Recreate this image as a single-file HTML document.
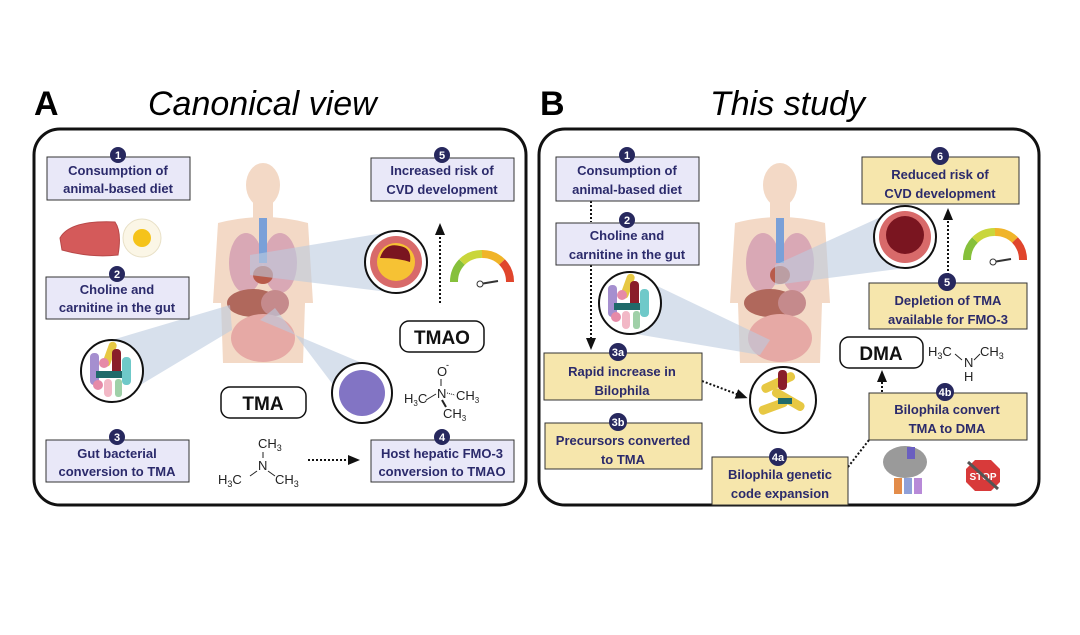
<!DOCTYPE html>
<html><head><meta charset="utf-8"><style>
html,body{margin:0;padding:0;background:#fff}
svg{display:block}
.bt{font-family:"Liberation Sans",sans-serif;font-weight:bold;font-size:13px;fill:#2b2a6b}
.bd{font-family:"Liberation Sans",sans-serif;font-weight:bold;font-size:11px;fill:#fff}
.ch{font-family:"Liberation Sans",sans-serif;font-size:13px;fill:#222}
.pl{font-family:"Liberation Sans",sans-serif;font-weight:bold;font-size:19px;fill:#111}
</style></head><body>
<svg width="1080" height="635" viewBox="0 0 1080 635" xmlns="http://www.w3.org/2000/svg">
<defs>
<marker id="ah" markerUnits="userSpaceOnUse" markerWidth="12" markerHeight="12" refX="6" refY="6" orient="auto"><path d="M0,1 L12,6 L0,11 z" fill="#111"/></marker>
<g id="body">
<ellipse cx="50" cy="22" rx="17" ry="22" fill="#f3d9c6"/>
<rect x="40" y="38" width="20" height="20" fill="#f3d9c6"/>
<path d="M5,60 Q50,48 95,60 L100,140 L92,140 L90,200 L10,200 L8,140 L0,140 Z" fill="#f3d9c6"/>
<ellipse cx="33" cy="100" rx="17" ry="30" fill="#d9a8b5"/>
<ellipse cx="67" cy="100" rx="17" ry="30" fill="#d9a8b5"/>
<rect x="46" y="55" width="8" height="45" fill="#7aa0d8"/>
<ellipse cx="50" cy="112" rx="10" ry="9" fill="#b85b4a"/>
<ellipse cx="40" cy="140" rx="26" ry="14" fill="#b0685c"/>
<ellipse cx="62" cy="140" rx="14" ry="13" fill="#c58a8c"/>
<ellipse cx="50" cy="175" rx="32" ry="24" fill="#e6a9a5"/>
</g>
<g id="bact">
<circle r="31" fill="#fff" stroke="#111" stroke-width="2"/>
<rect x="-22" y="-18" width="9" height="32" rx="4" fill="#a58fcf"/>
<rect x="-12" y="-28" width="8" height="26" rx="4" fill="#e7c843" transform="rotate(20)"/>
<rect x="0" y="-22" width="9" height="28" rx="4" fill="#8a1d2a"/>
<rect x="10" y="-14" width="9" height="28" rx="4" fill="#6fc9c9"/>
<rect x="-16" y="0" width="26" height="7" fill="#1f6a6a"/>
<circle cx="-8" cy="-8" r="5" fill="#e68aa8"/>
<circle cx="-14" cy="14" r="5" fill="#e68aa8"/>
<rect x="-8" y="8" width="8" height="18" rx="4" fill="#f2b8c6"/>
<rect x="3" y="8" width="7" height="18" rx="3" fill="#9fd0a8"/>
</g>
<g id="gauge">
<path d="M-28,0 A28,28 0 0 1 -20,-20" stroke="#86c03b" stroke-width="8" fill="none"/>
<path d="M-20,-20 A28,28 0 0 1 0,-28" stroke="#c9d63b" stroke-width="8" fill="none"/>
<path d="M0,-28 A28,28 0 0 1 20,-20" stroke="#f0b429" stroke-width="8" fill="none"/>
<path d="M20,-20 A28,28 0 0 1 28,0" stroke="#e0452c" stroke-width="8" fill="none"/>
<line x1="-2" y1="2" x2="16" y2="-1" stroke="#333" stroke-width="2"/>
<circle cx="-2" cy="2" r="3" fill="#fff" stroke="#333"/>
</g>
</defs>

<text x="34" y="115" font-family="Liberation Sans" font-weight="bold" font-size="34">A</text>
<text x="148" y="115" font-family="Liberation Sans" font-style="italic" font-size="34">Canonical view</text>
<text x="540" y="115" font-family="Liberation Sans" font-weight="bold" font-size="34">B</text>
<text x="710" y="115" font-family="Liberation Sans" font-style="italic" font-size="34">This study</text>

<rect x="34" y="129" width="492" height="376" rx="26" fill="#fff" stroke="#111" stroke-width="3"/>
<rect x="539" y="129" width="500" height="376" rx="26" fill="#fff" stroke="#111" stroke-width="3"/>

<!-- Panel A -->
<use href="#body" x="213" y="163"/>
<polygon points="396,231 250,255 250,275 396,293" fill="#bccbe0" opacity="0.6"/>
<polygon points="112,340 230,305 232,330 112,402" fill="#bccbe0" opacity="0.6"/>
<polygon points="362,363 260,320 275,308 362,423" fill="#bccbe0" opacity="0.6"/>
<use href="#bact" x="112" y="371"/>
<circle cx="396" cy="262" r="31" fill="#fff" stroke="#111" stroke-width="2"/>
<circle cx="396" cy="262" r="26" fill="#d86a6a"/>
<circle cx="396" cy="262" r="19" fill="#f6c234"/>
<path d="M380,258 Q385,242 400,246 Q412,248 410,262 Q398,258 380,258" fill="#7a1520"/>
<circle cx="362" cy="393" r="30" fill="#fff" stroke="#111" stroke-width="2"/>
<circle cx="362" cy="393" r="23" fill="#8274c4"/>
<use href="#gauge" x="482" y="282"/>
<path d="M60,238 Q70,220 115,222 Q122,232 118,255 Q90,258 62,250 Z" fill="#d45a5a" stroke="#b84848"/>
<ellipse cx="142" cy="238" rx="19" ry="19" fill="#fbf6e6" stroke="#e8e0c6"/>
<circle cx="142" cy="238" r="9" fill="#f5c31a"/>

<line x1="440" y1="303" x2="440" y2="229" stroke="#111" stroke-width="2" stroke-dasharray="2,2" marker-end="url(#ah)"/>
<line x1="308" y1="460" x2="354" y2="460" stroke="#111" stroke-width="2" stroke-dasharray="2,2" marker-end="url(#ah)"/>

<rect x="400" y="321" width="84" height="31" rx="9" fill="#fff" stroke="#111" stroke-width="1.5"/>
<text x="442" y="344" text-anchor="middle" class="pl">TMAO</text>
<rect x="221" y="387" width="85" height="31" rx="9" fill="#fff" stroke="#111" stroke-width="1.5"/>
<text x="263" y="410" text-anchor="middle" class="pl">TMA</text>

<text x="258" y="448" class="ch">CH<tspan font-size="9" dy="3">3</tspan></text>
<line x1="263" y1="452" x2="263" y2="458" stroke="#222"/>
<text x="258" y="470" class="ch">N</text>
<line x1="250" y1="476" x2="257" y2="471" stroke="#222"/><line x1="268" y1="471" x2="275" y2="476" stroke="#222"/>
<text x="218" y="484" class="ch">H<tspan font-size="9" dy="3">3</tspan><tspan dy="-3">C</tspan></text>
<text x="275" y="484" class="ch">CH<tspan font-size="9" dy="3">3</tspan></text>
<text x="437" y="376" class="ch">O</text><text x="446" y="368" font-size="9" font-family="Liberation Sans">-</text>
<line x1="441" y1="379" x2="441" y2="386" stroke="#222"/>
<text x="437" y="398" class="ch">N</text>
<line x1="426" y1="400" x2="436" y2="394" stroke="#222"/><line x1="447" y1="393" x2="455" y2="395" stroke="#222" stroke-dasharray="1,1"/>
<line x1="442" y1="400" x2="446" y2="407" stroke="#222" stroke-width="2"/>
<text x="404" y="403" class="ch" font-size="12">H<tspan font-size="8" dy="3">3</tspan><tspan dy="-3">C</tspan></text>
<text x="456" y="400" class="ch" font-size="12">CH<tspan font-size="8" dy="3">3</tspan></text>
<text x="443" y="418" class="ch" font-size="12">CH<tspan font-size="8" dy="3">3</tspan></text>

<rect x="47" y="157" width="143" height="43" fill="#e9e8f8" stroke="#333"/>
<text x="118" y="175" text-anchor="middle" class="bt">Consumption of</text><text x="118" y="193" text-anchor="middle" class="bt">animal-based diet</text>
<circle cx="118" cy="155" r="8" fill="#27285e"/><text x="118" y="159" text-anchor="middle" class="bd">1</text>

<rect x="46" y="277" width="143" height="42" fill="#e9e8f8" stroke="#333"/>
<text x="117" y="294" text-anchor="middle" class="bt">Choline and</text><text x="117" y="312" text-anchor="middle" class="bt">carnitine in the gut</text>
<circle cx="117" cy="274" r="8" fill="#27285e"/><text x="117" y="278" text-anchor="middle" class="bd">2</text>

<rect x="46" y="440" width="143" height="42" fill="#e9e8f8" stroke="#333"/>
<text x="117" y="458" text-anchor="middle" class="bt">Gut bacterial</text><text x="117" y="476" text-anchor="middle" class="bt">conversion to TMA</text>
<circle cx="117" cy="437" r="8" fill="#27285e"/><text x="117" y="441" text-anchor="middle" class="bd">3</text>

<rect x="371" y="158" width="143" height="43" fill="#e9e8f8" stroke="#333"/>
<text x="442" y="175" text-anchor="middle" class="bt">Increased risk of</text><text x="442" y="194" text-anchor="middle" class="bt">CVD development</text>
<circle cx="442" cy="155" r="8" fill="#27285e"/><text x="442" y="159" text-anchor="middle" class="bd">5</text>

<rect x="371" y="440" width="143" height="42" fill="#e9e8f8" stroke="#333"/>
<text x="442" y="458" text-anchor="middle" class="bt">Host hepatic FMO-3</text><text x="442" y="476" text-anchor="middle" class="bt">conversion to TMAO</text>
<circle cx="442" cy="437" r="8" fill="#27285e"/><text x="442" y="441" text-anchor="middle" class="bd">4</text>

<!-- Panel B -->
<use href="#body" x="730" y="163"/>
<polygon points="905,206 775,265 775,285 905,268" fill="#bccbe0" opacity="0.6"/>
<polygon points="630,273 770,340 760,355 630,333" fill="#bccbe0" opacity="0.6"/>
<use href="#bact" x="630" y="303"/>
<circle cx="783" cy="400" r="33" fill="#fff" stroke="#111" stroke-width="2"/>
<rect x="760" y="378" width="36" height="9" rx="4" fill="#e7c843" transform="rotate(-25 778 382)"/>
<rect x="770" y="395" width="36" height="9" rx="4" fill="#e7c843" transform="rotate(30 788 400)"/>
<rect x="758" y="402" width="30" height="9" rx="4" fill="#e7c843" transform="rotate(-20 773 406)"/>
<rect x="778" y="370" width="9" height="20" rx="4" fill="#8a1d2a"/>
<rect x="778" y="398" width="14" height="6" fill="#1f6a6a"/>
<circle cx="905" cy="237" r="31" fill="#fff" stroke="#111" stroke-width="2"/>
<circle cx="905" cy="237" r="26" fill="#d86a6a"/>
<circle cx="905" cy="235" r="19" fill="#7a1520"/>
<use href="#gauge" x="995" y="260"/>
<ellipse cx="905" cy="462" rx="22" ry="16" fill="#9a9a9a"/>
<rect x="907" y="447" width="8" height="12" fill="#6a5fc0"/>
<rect x="894" y="478" width="8" height="16" fill="#e38c4a"/><rect x="904" y="478" width="8" height="16" fill="#8fa0d8"/><rect x="914" y="478" width="8" height="16" fill="#b88ad8"/>
<polygon points="975,460 991,460 1000,469 1000,482 991,491 975,491 966,482 966,469" fill="#d83a3a"/>
<text x="983" y="480" text-anchor="middle" font-family="Liberation Sans" font-weight="bold" font-size="10" fill="#fff">STOP</text>
<line x1="968" y1="462" x2="998" y2="489" stroke="#555" stroke-width="3"/>

<line x1="591" y1="201" x2="591" y2="222" stroke="#111" stroke-width="2" stroke-dasharray="2,2"/>
<line x1="591" y1="265" x2="591" y2="344" stroke="#111" stroke-width="2" stroke-dasharray="2,2" marker-end="url(#ah)"/>
<line x1="702" y1="381" x2="742" y2="396" stroke="#111" stroke-width="2" stroke-dasharray="2,2" marker-end="url(#ah)"/>
<line x1="848" y1="467" x2="869" y2="440" stroke="#111" stroke-width="2" stroke-dasharray="2,2"/>
<line x1="882" y1="392" x2="882" y2="376" stroke="#111" stroke-width="2" stroke-dasharray="2,2" marker-end="url(#ah)"/>
<line x1="948" y1="283" x2="948" y2="214" stroke="#111" stroke-width="2" stroke-dasharray="2,2" marker-end="url(#ah)"/>

<rect x="840" y="337" width="83" height="31" rx="9" fill="#fff" stroke="#111" stroke-width="1.5"/>
<text x="881" y="360" text-anchor="middle" class="pl">DMA</text>
<text x="928" y="356" class="ch">H<tspan font-size="9" dy="3">3</tspan><tspan dy="-3">C</tspan></text>
<line x1="955" y1="354" x2="962" y2="360" stroke="#222"/><line x1="974" y1="360" x2="980" y2="354" stroke="#222"/>
<text x="964" y="367" class="ch">N</text>
<text x="980" y="356" class="ch">CH<tspan font-size="9" dy="3">3</tspan></text>
<text x="964" y="381" class="ch">H</text>

<rect x="556" y="157" width="143" height="44" fill="#e9e8f8" stroke="#333"/>
<text x="627" y="175" text-anchor="middle" class="bt">Consumption of</text><text x="627" y="194" text-anchor="middle" class="bt">animal-based diet</text>
<circle cx="627" cy="155" r="8" fill="#27285e"/><text x="627" y="159" text-anchor="middle" class="bd">1</text>

<rect x="556" y="223" width="143" height="42" fill="#e9e8f8" stroke="#333"/>
<text x="627" y="240" text-anchor="middle" class="bt">Choline and</text><text x="627" y="259" text-anchor="middle" class="bt">carnitine in the gut</text>
<circle cx="627" cy="220" r="8" fill="#27285e"/><text x="627" y="224" text-anchor="middle" class="bd">2</text>

<g fill="#f6e6ac" stroke="#333">
<rect x="544" y="353" width="158" height="47"/>
<rect x="545" y="423" width="157" height="46"/>
<rect x="712" y="457" width="136" height="48"/>
<rect x="869" y="393" width="158" height="47"/>
<rect x="869" y="283" width="158" height="46"/>
<rect x="862" y="157" width="157" height="47"/>
</g>
<text x="622" y="376" text-anchor="middle" class="bt">Rapid increase in</text><text x="622" y="395" text-anchor="middle" class="bt">Bilophila</text>
<circle cx="618" cy="352" r="9" fill="#27285e"/><text x="618" y="356" text-anchor="middle" class="bd">3a</text>
<text x="623" y="445" text-anchor="middle" class="bt">Precursors converted</text><text x="623" y="464" text-anchor="middle" class="bt">to TMA</text>
<circle cx="618" cy="422" r="9" fill="#27285e"/><text x="618" y="426" text-anchor="middle" class="bd">3b</text>
<text x="780" y="479" text-anchor="middle" class="bt">Bilophila genetic</text><text x="780" y="498" text-anchor="middle" class="bt">code expansion</text>
<circle cx="778" cy="457" r="9" fill="#27285e"/><text x="778" y="461" text-anchor="middle" class="bd">4a</text>
<text x="947" y="414" text-anchor="middle" class="bt">Bilophila convert</text><text x="947" y="433" text-anchor="middle" class="bt">TMA to DMA</text>
<circle cx="945" cy="392" r="9" fill="#27285e"/><text x="945" y="396" text-anchor="middle" class="bd">4b</text>
<text x="948" y="305" text-anchor="middle" class="bt">Depletion of TMA</text><text x="948" y="324" text-anchor="middle" class="bt">available for FMO-3</text>
<circle cx="947" cy="282" r="9" fill="#27285e"/><text x="947" y="286" text-anchor="middle" class="bd">5</text>
<text x="940" y="179" text-anchor="middle" class="bt">Reduced risk of</text><text x="940" y="198" text-anchor="middle" class="bt">CVD development</text>
<circle cx="940" cy="156" r="9" fill="#27285e"/><text x="940" y="160" text-anchor="middle" class="bd">6</text>
</svg>
</body></html>
